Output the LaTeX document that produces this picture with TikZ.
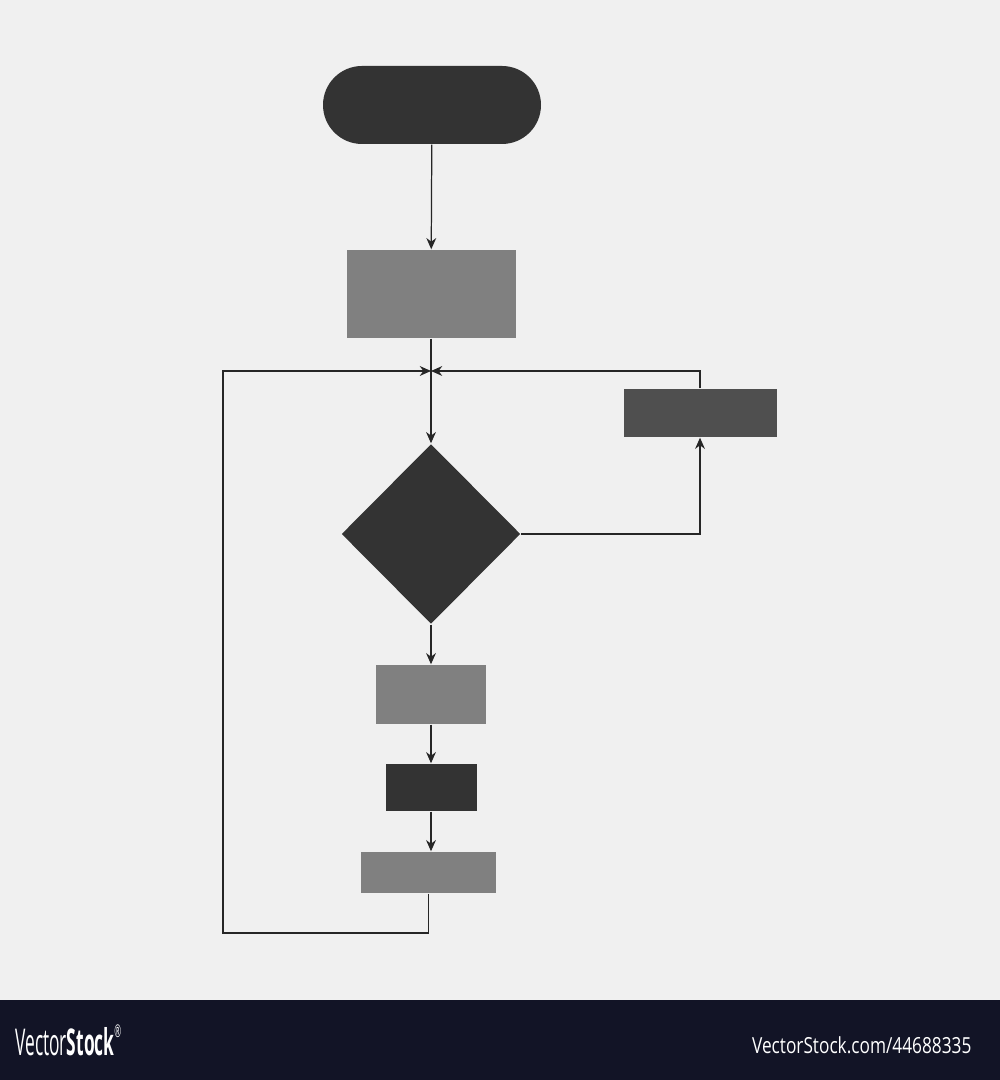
\documentclass[tikz,border=0pt]{standalone}
\usepackage{fontspec}
\newfontfamily\barfont{Open Sans}
\usetikzlibrary{arrows.meta, shapes.geometric}

\definecolor{bgray}{HTML}{F0F0F0}
\definecolor{darkbox}{HTML}{333333}
\definecolor{midbox}{HTML}{808080}
\definecolor{sidebox}{HTML}{4F4F4F}
\definecolor{barcol}{HTML}{121426}

\tikzset{
    flow/.style={-{Stealth[length=3.2pt,width=2.8pt]}, line width=0.35pt, draw=black!85},
    link/.style={line width=0.35pt, draw=black!85},
    boxnode/.style={rectangle, inner sep=0pt, draw=none},
}

\begin{document}
\begin{tikzpicture}
    % Background and bottom bar
    \fill[bgray] (0,0) rectangle (10,10.8);
    \useasboundingbox (0,0) rectangle (10,10.8);
    \fill[barcol] (0,0) rectangle (10,0.8);

    % Flowchart blocks
    \node[boxnode, fill=darkbox, rounded corners=3.9mm, minimum width=2.18cm, minimum height=0.78cm] (start) at (4.32,9.75) {};
    \node[boxnode, fill=midbox, minimum width=1.69cm, minimum height=0.88cm] (proc) at (4.31,7.86) {};
    \node[diamond, fill=darkbox, inner sep=0pt, minimum width=1.79cm, minimum height=1.80cm] (dec) at (4.31,5.46) {};
    \node[boxnode, fill=sidebox, minimum width=1.53cm, minimum height=0.48cm] (side) at (7.00,6.67) {};
    \node[boxnode, fill=midbox, minimum width=1.10cm, minimum height=0.59cm] (stepa) at (4.31,3.855) {};
    \node[boxnode, fill=darkbox, minimum width=0.91cm, minimum height=0.47cm] (stepb) at (4.31,2.925) {};
    \node[boxnode, fill=midbox, minimum width=1.35cm, minimum height=0.41cm] (stepc) at (4.285,2.075) {};

    % Helper points
    \coordinate (junc) at (4.31,7.09);
    \coordinate (loopcorner) at (2.23,1.47);

    % Connectors
    \draw[flow] (start) -- (proc);
    \draw[link] (proc) -- (junc);
    \draw[flow] (junc) -- (dec);
    \draw[flow] (dec.east) -| (side.south);
    \draw[flow] (side.north) |- (junc);
    \draw[flow] (dec) -- (stepa);
    \draw[flow] (stepa) -- (stepb);
    \draw[flow] (stepb.south) -- (stepb.south |- stepc.north);
    \draw[flow] (stepc.south) |- (loopcorner) |- (junc);

    % Bar texts
    \node[anchor=west, text=white, xscale=0.47, inner sep=0pt] (brand) at (0.15,0.40)
        {\barfont\fontsize{10.5}{12}\selectfont Vector\textbf{Stock}\raisebox{0.9ex}{\fontsize{5}{6}\selectfont ®}};
    \node[anchor=east, text=white, xscale=0.78, inner sep=0pt] (ref) at (9.72,0.35)
        {\barfont\fontsize{6.3}{8}\selectfont VectorStock.com/44688335};
\end{tikzpicture}
\end{document}
